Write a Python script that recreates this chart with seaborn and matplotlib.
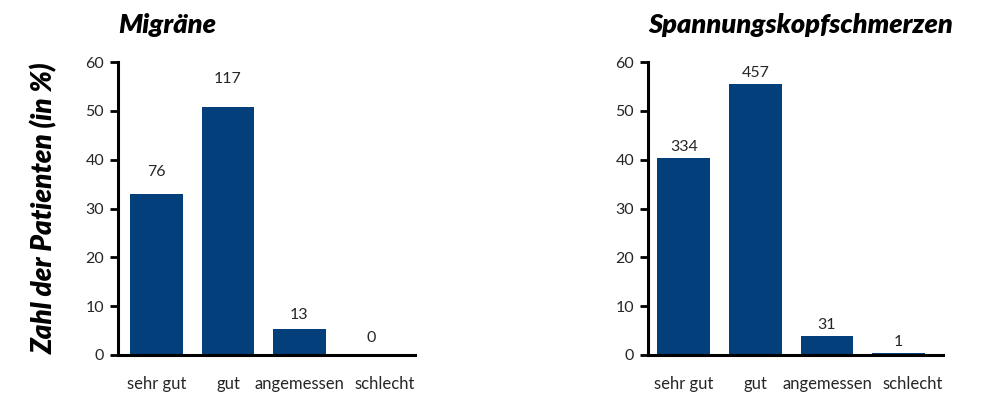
import matplotlib
matplotlib.use("Agg")
import matplotlib.pyplot as plt
import matplotlib.transforms as mtransforms
import seaborn as sns
import pandas as pd

# Response categories (x axis)
categories = ["sehr gut", "gut", "angemessen", "schlecht"]

# Migräne: share of patients (%) and absolute counts
migraene_pct = [33.0, 50.8, 5.3, 0.0]
migraene_n = [76, 117, 13, 0]

# Spannungskopfschmerzen: share of patients (%) and absolute counts
spannung_pct = [40.4, 55.4, 3.9, 0.4]
spannung_n = [334, 457, 31, 1]

panel_titles = ["Migräne", "Spannungskopfschmerzen"]
y_ticks = [0, 10, 20, 30, 40, 50, 60]

BAR_COLOR = "#023f7b"
TEXT_COLOR = "#262626"

sns.set_theme(style="white")
plt.rcParams["font.family"] = ["Lato", "DejaVu Sans"]

fig = plt.figure(figsize=(9.83, 3.93), dpi=100)

panels = [
    dict(rect=[118 / 983, 1 - 355 / 393, 297 / 983, 293 / 393],
         pct=migraene_pct, n=migraene_n, title=panel_titles[0],
         xlim=(-0.54, 3.62), pads=[11, 15, 5, 7]),
    dict(rect=[648 / 983, 1 - 355 / 393, 295 / 983, 293 / 393],
         pct=spannung_pct, n=spannung_n, title=panel_titles[1],
         xlim=(-0.50, 3.62), pads=[3, 3, 3, 3]),
]

for i, p in enumerate(panels):
    ax = fig.add_axes(p["rect"])
    df = pd.DataFrame({"Bewertung": categories, "Anteil": p["pct"]})
    sns.barplot(data=df, x="Bewertung", y="Anteil", color=BAR_COLOR,
                width=0.74, saturation=1, ax=ax, edgecolor="none")
    # count labels above each bar
    for bar, count, pad in zip(ax.patches, p["n"], p["pads"]):
        ax.annotate(str(count),
                    (bar.get_x() + bar.get_width() / 2, bar.get_height()),
                    xytext=(0, pad), textcoords="offset points",
                    ha="center", va="bottom", fontsize=11.5, color=TEXT_COLOR)
    ax.set_xlim(*p["xlim"])
    ax.set_ylim(0, 60)
    ax.set_yticks(y_ticks)
    ax.set_xlabel("")
    ax.set_ylabel("")
    sns.despine(ax=ax)
    for side in ("left", "bottom"):
        ax.spines[side].set_linewidth(2.2)
        ax.spines[side].set_color("black")
    ax.tick_params(axis="y", which="major", left=True, length=6, width=2.0,
                   labelsize=11.5, labelcolor=TEXT_COLOR, pad=4, color="black")
    ax.tick_params(axis="x", which="major", bottom=False, length=0,
                   labelsize=12, labelcolor=TEXT_COLOR, pad=15)
    # nudge the last category label right so it clears "angemessen"
    last = ax.get_xticklabels()[-1]
    last.set_transform(last.get_transform() +
                       mtransforms.ScaledTranslation(14 / 100, 0,
                                                     fig.dpi_scale_trans))
    ax.set_title(p["title"], loc="left", fontsize=19.5, fontweight="heavy",
                 fontstyle="italic", color="black", pad=21)
    if i == 0:
        ax.set_ylabel("Zahl der Patienten (in %)", fontsize=20,
                      fontweight="heavy", fontstyle="italic", color="black",
                      labelpad=20)

fig.savefig("out.png", dpi=100)
